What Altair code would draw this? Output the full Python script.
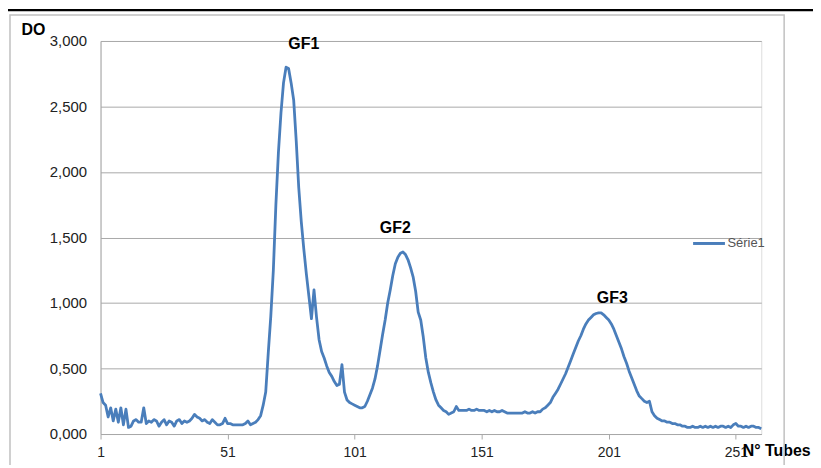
import altair as alt
import pandas as pd

# ---- data ----
tubes = list(range(1, 262))
do_values = [
    0.31, 0.24, 0.22, 0.13, 0.20, 0.10, 0.19, 0.09, 0.20, 0.07,
    0.19, 0.05, 0.06, 0.10, 0.11, 0.09, 0.09, 0.20, 0.08, 0.10,
    0.09, 0.11, 0.10, 0.06, 0.09, 0.11, 0.07, 0.10, 0.09, 0.06,
    0.10, 0.11, 0.08, 0.10, 0.09, 0.10, 0.12, 0.15, 0.13, 0.12,
    0.10, 0.11, 0.09, 0.08, 0.11, 0.09, 0.07, 0.07, 0.08, 0.12,
    0.08, 0.08, 0.07, 0.07, 0.07, 0.07, 0.07, 0.08, 0.10, 0.07,
    0.08, 0.09, 0.11, 0.14, 0.22, 0.32, 0.62, 0.90, 1.25, 1.75,
    2.15, 2.45, 2.68, 2.80, 2.79, 2.68, 2.55, 2.24, 1.88, 1.62,
    1.41, 1.22, 1.05, 0.88, 1.10, 0.89, 0.72, 0.63, 0.58, 0.52,
    0.47, 0.44, 0.40, 0.37, 0.38, 0.53, 0.32, 0.26, 0.24, 0.23,
    0.22, 0.21, 0.20, 0.20, 0.21, 0.25, 0.30, 0.35, 0.42, 0.52,
    0.64, 0.76, 0.87, 1.00, 1.10, 1.21, 1.30, 1.35, 1.38, 1.39,
    1.37, 1.33, 1.27, 1.20, 1.09, 0.93, 0.87, 0.74, 0.58, 0.47,
    0.39, 0.32, 0.26, 0.22, 0.20, 0.18, 0.17, 0.15, 0.16, 0.17,
    0.21, 0.18, 0.18, 0.18, 0.18, 0.19, 0.18, 0.18, 0.19, 0.18,
    0.18, 0.18, 0.17, 0.18, 0.17, 0.18, 0.17, 0.17, 0.18, 0.17,
    0.16, 0.16, 0.16, 0.16, 0.16, 0.16, 0.16, 0.17, 0.16, 0.16,
    0.17, 0.16, 0.17, 0.17, 0.19, 0.20, 0.22, 0.24, 0.28, 0.31,
    0.34, 0.38, 0.42, 0.46, 0.51, 0.56, 0.61, 0.66, 0.71, 0.75,
    0.80, 0.84, 0.87, 0.89, 0.91, 0.92, 0.925, 0.925, 0.91, 0.89,
    0.87, 0.84, 0.80, 0.75, 0.70, 0.65, 0.59, 0.54, 0.48, 0.43,
    0.38, 0.33, 0.29, 0.27, 0.25, 0.24, 0.25, 0.17, 0.14, 0.12,
    0.11, 0.10, 0.10, 0.09, 0.09, 0.08, 0.08, 0.07, 0.07, 0.06,
    0.06, 0.05, 0.05, 0.06, 0.05, 0.05, 0.06, 0.05, 0.06, 0.05,
    0.06, 0.05, 0.06, 0.05, 0.06, 0.06, 0.05, 0.06, 0.05, 0.07,
    0.08, 0.06, 0.06, 0.05, 0.06, 0.05, 0.06, 0.06, 0.05, 0.05, 0.04,
]
series_name = "Série1"

x_ticks = [1, 51, 101, 151, 201, 251]
y_ticks = [0, 0.5, 1.0, 1.5, 2.0, 2.5, 3.0]

peak_labels = ["GF1", "GF2", "GF3"]
peak_tubes = [81, 117, 202.4]
peak_values = [2.98, 1.57, 1.04]

df = pd.DataFrame({"tube": tubes, "do": do_values, "serie": [series_name] * len(tubes)})
peaks = pd.DataFrame({"label": peak_labels, "tube": peak_tubes, "do": peak_values})
one = pd.DataFrame({"k": [0]})

FONT = "Liberation Sans"
BLUE = "#4A7EBB"
GRID = "#a8a8a8"

x_scale = alt.Scale(domain=[1, 261], nice=False, zero=False)
y_scale = alt.Scale(domain=[0, 3], nice=False, zero=True)

line = alt.Chart(df).mark_line(strokeWidth=2.8, strokeJoin="round").encode(
    x=alt.X("tube:Q", scale=x_scale,
            axis=alt.Axis(values=x_ticks, title="N° Tubes", grid=False,
                          domainColor=GRID, tickColor=GRID, tickSize=5,
                          labelFontSize=14, labelColor="#222", labelPadding=7,
                          labelFont=FONT, titleFont=FONT,
                          titleFontSize=16, titleFontWeight="bold", titleColor="#000",
                          titleX=679, titleY=17, titleAlign="center",
                          titleBaseline="middle", labelFlush=False)),
    y=alt.Y("do:Q", scale=y_scale,
            axis=alt.Axis(values=y_ticks, title="DO", grid=True, gridColor=GRID,
                          domainColor=GRID, ticks=False, labelPadding=14,
                          labelFontSize=15, labelColor="#222", labelFont=FONT,
                          labelExpr="replace(format(datum.value, '.3f'), '.', ',')",
                          titleFont=FONT, titleFontSize=16, titleFontWeight="bold",
                          titleColor="#000", titleAngle=0, titleX=-68, titleY=-12,
                          titleAlign="center", titleBaseline="middle")),
    color=alt.Color("serie:N", scale=alt.Scale(range=[BLUE]),
                    legend=alt.Legend(title=None, orient="none", legendX=594, legendY=186,
                                      symbolType="stroke", symbolSize=1024,
                                      symbolStrokeWidth=3, labelFontSize=13,
                                      labelColor="#555", labelFont=FONT,
                                      labelOffset=1, padding=0)),
)

texts = alt.Chart(peaks).mark_text(fontSize=16, fontWeight="bold", font=FONT,
                                   color="#000", baseline="middle", align="center").encode(
    x=alt.X("tube:Q", scale=x_scale),
    y=alt.Y("do:Q", scale=y_scale),
    text="label:N",
)

border = alt.Chart(one).mark_rect(fill=None, stroke="#c0c0c0", strokeWidth=1.5).encode(
    x=alt.value(-91), x2=alt.value(687), y=alt.value(-26), y2=alt.value(440)
)
top_line = alt.Chart(one).mark_rule(color="#000", strokeWidth=2.5).encode(
    x=alt.value(-101), x2=alt.value(720), y=alt.value(-31)
)

chart = alt.layer(border, top_line, line, texts).properties(
    width=664, height=395,
    autosize=alt.AutoSizeParams(type="none"),
    padding={"left": 93, "top": 32, "right": 52, "bottom": 30},
).configure_view(stroke=None).configure(font=FONT)

chart.save("out.html", embed_options={"renderer": "svg", "actions": False})
